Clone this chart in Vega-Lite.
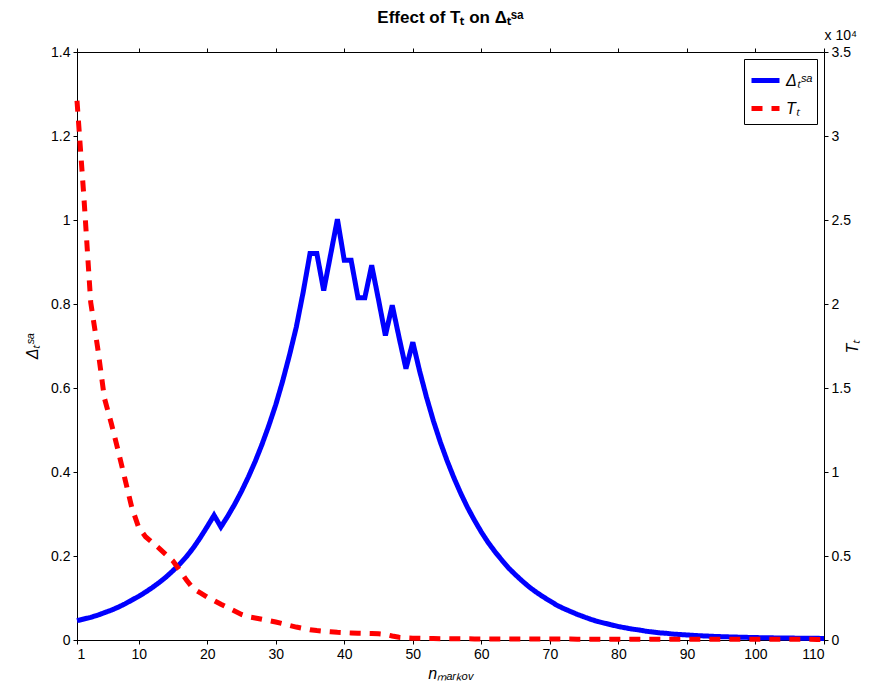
{
  "$schema": "https://vega.github.io/schema/vega-lite/v6.json",
  "autosize": {"type": "none"},
  "width": 747,
  "height": 588,
  "padding": {"left": 77, "top": 52, "right": 64, "bottom": 58},
  "background": "white",
  "config": {
    "view": {"stroke": "black", "strokeWidth": 1},
    "font": "Liberation Sans",
    "axis": {
      "labelFont": "Liberation Sans",
      "labelFontSize": 14,
      "labelColor": "black",
      "ticks": true,
      "tickColor": "#000000",
      "tickOpacity": 1,
      "tickWidth": 1,
      "tickSize": 4,
      "domain": true,
      "domainColor": "black",
      "grid": false,
      "labelPadding": 3,
      "titleFont": "Liberation Sans",
      "titleFontSize": 16,
      "titleFontWeight": "normal",
      "titleFontStyle": "italic",
      "titleColor": "black"
    },
    "legend": {
      "strokeColor": "black",
      "fillColor": "white",
      "padding": 5,
      "labelFont": "Liberation Sans",
      "labelFontSize": 16,
      "labelFontStyle": "italic",
      "labelColor": "black",
      "symbolType": "stroke",
      "symbolSize": 784,
      "symbolStrokeWidth": 5,
      "rowPadding": 1
    }
  },
  "title": {
    "text": "Effect of Tₜ on Δₜˢᵃ",
    "font": "Liberation Sans",
    "fontSize": 17,
    "fontWeight": "bold",
    "anchor": "middle",
    "color": "black",
    "offset": 2
  },
  "datasets": {
    "delta": [
      {"n": 1, "s": "Δₜˢᵃ", "v": 0.046}, {"n": 2, "s": "Δₜˢᵃ", "v": 0.05}, {"n": 3, "s": "Δₜˢᵃ", "v": 0.054},
      {"n": 4, "s": "Δₜˢᵃ", "v": 0.059}, {"n": 5, "s": "Δₜˢᵃ", "v": 0.065}, {"n": 6, "s": "Δₜˢᵃ", "v": 0.071},
      {"n": 7, "s": "Δₜˢᵃ", "v": 0.078}, {"n": 8, "s": "Δₜˢᵃ", "v": 0.086}, {"n": 9, "s": "Δₜˢᵃ", "v": 0.095},
      {"n": 10, "s": "Δₜˢᵃ", "v": 0.104}, {"n": 11, "s": "Δₜˢᵃ", "v": 0.114}, {"n": 12, "s": "Δₜˢᵃ", "v": 0.125},
      {"n": 13, "s": "Δₜˢᵃ", "v": 0.137}, {"n": 14, "s": "Δₜˢᵃ", "v": 0.15}, {"n": 15, "s": "Δₜˢᵃ", "v": 0.165},
      {"n": 16, "s": "Δₜˢᵃ", "v": 0.181}, {"n": 17, "s": "Δₜˢᵃ", "v": 0.199}, {"n": 18, "s": "Δₜˢᵃ", "v": 0.22},
      {"n": 19, "s": "Δₜˢᵃ", "v": 0.244}, {"n": 20, "s": "Δₜˢᵃ", "v": 0.27}, {"n": 21, "s": "Δₜˢᵃ", "v": 0.297},
      {"n": 22, "s": "Δₜˢᵃ", "v": 0.269}, {"n": 23, "s": "Δₜˢᵃ", "v": 0.295}, {"n": 24, "s": "Δₜˢᵃ", "v": 0.323},
      {"n": 25, "s": "Δₜˢᵃ", "v": 0.354}, {"n": 26, "s": "Δₜˢᵃ", "v": 0.388}, {"n": 27, "s": "Δₜˢᵃ", "v": 0.425},
      {"n": 28, "s": "Δₜˢᵃ", "v": 0.466}, {"n": 29, "s": "Δₜˢᵃ", "v": 0.511}, {"n": 30, "s": "Δₜˢᵃ", "v": 0.56},
      {"n": 31, "s": "Δₜˢᵃ", "v": 0.616}, {"n": 32, "s": "Δₜˢᵃ", "v": 0.678}, {"n": 33, "s": "Δₜˢᵃ", "v": 0.745},
      {"n": 34, "s": "Δₜˢᵃ", "v": 0.828}, {"n": 35, "s": "Δₜˢᵃ", "v": 0.92}, {"n": 36, "s": "Δₜˢᵃ", "v": 0.92},
      {"n": 37, "s": "Δₜˢᵃ", "v": 0.832}, {"n": 38, "s": "Δₜˢᵃ", "v": 0.917}, {"n": 39, "s": "Δₜˢᵃ", "v": 1.002},
      {"n": 40, "s": "Δₜˢᵃ", "v": 0.904}, {"n": 41, "s": "Δₜˢᵃ", "v": 0.904}, {"n": 42, "s": "Δₜˢᵃ", "v": 0.815},
      {"n": 43, "s": "Δₜˢᵃ", "v": 0.815}, {"n": 44, "s": "Δₜˢᵃ", "v": 0.892}, {"n": 45, "s": "Δₜˢᵃ", "v": 0.81},
      {"n": 46, "s": "Δₜˢᵃ", "v": 0.725}, {"n": 47, "s": "Δₜˢᵃ", "v": 0.797}, {"n": 48, "s": "Δₜˢᵃ", "v": 0.72},
      {"n": 49, "s": "Δₜˢᵃ", "v": 0.646}, {"n": 50, "s": "Δₜˢᵃ", "v": 0.709}, {"n": 51, "s": "Δₜˢᵃ", "v": 0.64},
      {"n": 52, "s": "Δₜˢᵃ", "v": 0.578}, {"n": 53, "s": "Δₜˢᵃ", "v": 0.522}, {"n": 54, "s": "Δₜˢᵃ", "v": 0.472},
      {"n": 55, "s": "Δₜˢᵃ", "v": 0.427}, {"n": 56, "s": "Δₜˢᵃ", "v": 0.386}, {"n": 57, "s": "Δₜˢᵃ", "v": 0.349},
      {"n": 58, "s": "Δₜˢᵃ", "v": 0.315}, {"n": 59, "s": "Δₜˢᵃ", "v": 0.285}, {"n": 60, "s": "Δₜˢᵃ", "v": 0.257},
      {"n": 61, "s": "Δₜˢᵃ", "v": 0.232}, {"n": 62, "s": "Δₜˢᵃ", "v": 0.21}, {"n": 63, "s": "Δₜˢᵃ", "v": 0.19},
      {"n": 64, "s": "Δₜˢᵃ", "v": 0.171}, {"n": 65, "s": "Δₜˢᵃ", "v": 0.155}, {"n": 66, "s": "Δₜˢᵃ", "v": 0.14},
      {"n": 67, "s": "Δₜˢᵃ", "v": 0.126}, {"n": 68, "s": "Δₜˢᵃ", "v": 0.114}, {"n": 69, "s": "Δₜˢᵃ", "v": 0.103},
      {"n": 70, "s": "Δₜˢᵃ", "v": 0.093}, {"n": 71, "s": "Δₜˢᵃ", "v": 0.083}, {"n": 72, "s": "Δₜˢᵃ", "v": 0.075},
      {"n": 73, "s": "Δₜˢᵃ", "v": 0.068}, {"n": 74, "s": "Δₜˢᵃ", "v": 0.061}, {"n": 75, "s": "Δₜˢᵃ", "v": 0.055},
      {"n": 76, "s": "Δₜˢᵃ", "v": 0.049}, {"n": 77, "s": "Δₜˢᵃ", "v": 0.044}, {"n": 78, "s": "Δₜˢᵃ", "v": 0.04},
      {"n": 79, "s": "Δₜˢᵃ", "v": 0.036}, {"n": 80, "s": "Δₜˢᵃ", "v": 0.032}, {"n": 81, "s": "Δₜˢᵃ", "v": 0.029},
      {"n": 82, "s": "Δₜˢᵃ", "v": 0.026}, {"n": 83, "s": "Δₜˢᵃ", "v": 0.024}, {"n": 84, "s": "Δₜˢᵃ", "v": 0.021},
      {"n": 85, "s": "Δₜˢᵃ", "v": 0.019}, {"n": 86, "s": "Δₜˢᵃ", "v": 0.017}, {"n": 87, "s": "Δₜˢᵃ", "v": 0.016},
      {"n": 88, "s": "Δₜˢᵃ", "v": 0.014}, {"n": 89, "s": "Δₜˢᵃ", "v": 0.013}, {"n": 90, "s": "Δₜˢᵃ", "v": 0.012},
      {"n": 91, "s": "Δₜˢᵃ", "v": 0.011}, {"n": 92, "s": "Δₜˢᵃ", "v": 0.01}, {"n": 93, "s": "Δₜˢᵃ", "v": 0.0093},
      {"n": 94, "s": "Δₜˢᵃ", "v": 0.0086}, {"n": 95, "s": "Δₜˢᵃ", "v": 0.008}, {"n": 96, "s": "Δₜˢᵃ", "v": 0.0075},
      {"n": 97, "s": "Δₜˢᵃ", "v": 0.007}, {"n": 98, "s": "Δₜˢᵃ", "v": 0.0066}, {"n": 99, "s": "Δₜˢᵃ", "v": 0.0062},
      {"n": 100, "s": "Δₜˢᵃ", "v": 0.0058}, {"n": 101, "s": "Δₜˢᵃ", "v": 0.0055}, {"n": 102, "s": "Δₜˢᵃ", "v": 0.0052},
      {"n": 103, "s": "Δₜˢᵃ", "v": 0.005}, {"n": 104, "s": "Δₜˢᵃ", "v": 0.0048}, {"n": 105, "s": "Δₜˢᵃ", "v": 0.0046},
      {"n": 106, "s": "Δₜˢᵃ", "v": 0.0044}, {"n": 107, "s": "Δₜˢᵃ", "v": 0.0042}, {"n": 108, "s": "Δₜˢᵃ", "v": 0.004},
      {"n": 109, "s": "Δₜˢᵃ", "v": 0.0039}, {"n": 110, "s": "Δₜˢᵃ", "v": 0.0038}
    ],
    "temp": [
      {"n": 1, "s": "Tₜ", "v": 32100}, {"n": 2, "s": "Tₜ", "v": 26400}, {"n": 3, "s": "Tₜ", "v": 20100},
      {"n": 4, "s": "Tₜ", "v": 17440}, {"n": 5, "s": "Tₜ", "v": 14400}, {"n": 6, "s": "Tₜ", "v": 12900},
      {"n": 7, "s": "Tₜ", "v": 11280}, {"n": 8, "s": "Tₜ", "v": 9580}, {"n": 9, "s": "Tₜ", "v": 7880},
      {"n": 10, "s": "Tₜ", "v": 6700}, {"n": 11, "s": "Tₜ", "v": 6150}, {"n": 12, "s": "Tₜ", "v": 5800},
      {"n": 13, "s": "Tₜ", "v": 5450}, {"n": 14, "s": "Tₜ", "v": 5080}, {"n": 15, "s": "Tₜ", "v": 4700},
      {"n": 16, "s": "Tₜ", "v": 4150}, {"n": 17, "s": "Tₜ", "v": 3550}, {"n": 18, "s": "Tₜ", "v": 3050},
      {"n": 19, "s": "Tₜ", "v": 2800}, {"n": 20, "s": "Tₜ", "v": 2550}, {"n": 21, "s": "Tₜ", "v": 2350},
      {"n": 22, "s": "Tₜ", "v": 2130}, {"n": 23, "s": "Tₜ", "v": 1930}, {"n": 24, "s": "Tₜ", "v": 1730},
      {"n": 25, "s": "Tₜ", "v": 1520}, {"n": 26, "s": "Tₜ", "v": 1380}, {"n": 27, "s": "Tₜ", "v": 1310},
      {"n": 28, "s": "Tₜ", "v": 1230}, {"n": 29, "s": "Tₜ", "v": 1150}, {"n": 30, "s": "Tₜ", "v": 1070},
      {"n": 31, "s": "Tₜ", "v": 970}, {"n": 32, "s": "Tₜ", "v": 870}, {"n": 33, "s": "Tₜ", "v": 770},
      {"n": 34, "s": "Tₜ", "v": 690}, {"n": 35, "s": "Tₜ", "v": 610}, {"n": 36, "s": "Tₜ", "v": 560},
      {"n": 37, "s": "Tₜ", "v": 520}, {"n": 38, "s": "Tₜ", "v": 490}, {"n": 39, "s": "Tₜ", "v": 460},
      {"n": 40, "s": "Tₜ", "v": 440}, {"n": 41, "s": "Tₜ", "v": 420}, {"n": 42, "s": "Tₜ", "v": 405},
      {"n": 43, "s": "Tₜ", "v": 395}, {"n": 44, "s": "Tₜ", "v": 385}, {"n": 45, "s": "Tₜ", "v": 370},
      {"n": 46, "s": "Tₜ", "v": 330}, {"n": 47, "s": "Tₜ", "v": 240}, {"n": 48, "s": "Tₜ", "v": 160},
      {"n": 49, "s": "Tₜ", "v": 130}, {"n": 50, "s": "Tₜ", "v": 110}, {"n": 51, "s": "Tₜ", "v": 100},
      {"n": 52, "s": "Tₜ", "v": 92}, {"n": 53, "s": "Tₜ", "v": 86}, {"n": 54, "s": "Tₜ", "v": 80},
      {"n": 55, "s": "Tₜ", "v": 76}, {"n": 56, "s": "Tₜ", "v": 72}, {"n": 57, "s": "Tₜ", "v": 70},
      {"n": 58, "s": "Tₜ", "v": 68}, {"n": 59, "s": "Tₜ", "v": 66}, {"n": 60, "s": "Tₜ", "v": 64},
      {"n": 61, "s": "Tₜ", "v": 63}, {"n": 62, "s": "Tₜ", "v": 62}, {"n": 63, "s": "Tₜ", "v": 61},
      {"n": 64, "s": "Tₜ", "v": 60}, {"n": 65, "s": "Tₜ", "v": 59}, {"n": 66, "s": "Tₜ", "v": 58},
      {"n": 67, "s": "Tₜ", "v": 57}, {"n": 68, "s": "Tₜ", "v": 56}, {"n": 69, "s": "Tₜ", "v": 55},
      {"n": 70, "s": "Tₜ", "v": 54}, {"n": 71, "s": "Tₜ", "v": 54}, {"n": 72, "s": "Tₜ", "v": 53},
      {"n": 73, "s": "Tₜ", "v": 53}, {"n": 74, "s": "Tₜ", "v": 52}, {"n": 75, "s": "Tₜ", "v": 52},
      {"n": 76, "s": "Tₜ", "v": 51}, {"n": 77, "s": "Tₜ", "v": 51}, {"n": 78, "s": "Tₜ", "v": 50},
      {"n": 79, "s": "Tₜ", "v": 50}, {"n": 80, "s": "Tₜ", "v": 49}, {"n": 81, "s": "Tₜ", "v": 49},
      {"n": 82, "s": "Tₜ", "v": 48}, {"n": 83, "s": "Tₜ", "v": 48}, {"n": 84, "s": "Tₜ", "v": 47},
      {"n": 85, "s": "Tₜ", "v": 47}, {"n": 86, "s": "Tₜ", "v": 46}, {"n": 87, "s": "Tₜ", "v": 46},
      {"n": 88, "s": "Tₜ", "v": 45}, {"n": 89, "s": "Tₜ", "v": 45}, {"n": 90, "s": "Tₜ", "v": 44},
      {"n": 91, "s": "Tₜ", "v": 44}, {"n": 92, "s": "Tₜ", "v": 43}, {"n": 93, "s": "Tₜ", "v": 43},
      {"n": 94, "s": "Tₜ", "v": 42}, {"n": 95, "s": "Tₜ", "v": 42}, {"n": 96, "s": "Tₜ", "v": 42},
      {"n": 97, "s": "Tₜ", "v": 41}, {"n": 98, "s": "Tₜ", "v": 41}, {"n": 99, "s": "Tₜ", "v": 41},
      {"n": 100, "s": "Tₜ", "v": 40}, {"n": 101, "s": "Tₜ", "v": 40}, {"n": 102, "s": "Tₜ", "v": 40},
      {"n": 103, "s": "Tₜ", "v": 39}, {"n": 104, "s": "Tₜ", "v": 39}, {"n": 105, "s": "Tₜ", "v": 39},
      {"n": 106, "s": "Tₜ", "v": 38}, {"n": 107, "s": "Tₜ", "v": 38}, {"n": 108, "s": "Tₜ", "v": 38},
      {"n": 109, "s": "Tₜ", "v": 37}, {"n": 110, "s": "Tₜ", "v": 37}
    ]
  },
  "layer": [
    {
      "data": {"name": "delta"},
      "mark": {"type": "line", "strokeWidth": 5, "strokeCap": "butt", "strokeJoin": "miter"},
      "encoding": {
        "x": {
          "field": "n", "type": "quantitative",
          "scale": {"domain": [1, 110], "nice": false, "zero": false},
          "axis": {"orient": "bottom", "values": [1, 10, 20, 30, 40, 50, 60, 70, 80, 90, 100, 110], "title": "nₘₐᵣₖₒᵥ", "titlePadding": 4}
        },
        "y": {
          "field": "v", "type": "quantitative",
          "scale": {"domain": [0, 1.4], "nice": false},
          "axis": {"orient": "left", "values": [0, 0.2, 0.4, 0.6, 0.8, 1, 1.2, 1.4], "format": "~g", "title": "Δₜˢᵃ", "titlePadding": 10}
        },
        "color": {
          "field": "s", "type": "nominal",
          "scale": {"domain": ["Δₜˢᵃ", "Tₜ"], "range": ["#0000ff", "#ff0000"]},
          "legend": {"title": null, "orient": "top-right", "offset": 7}
        },
        "strokeDash": {
          "field": "s", "type": "nominal",
          "scale": {"domain": ["Δₜˢᵃ", "Tₜ"], "range": [[1, 0], [11, 9]]},
          "legend": {"title": null, "orient": "top-right", "offset": 7}
        }
      }
    },
    {
      "data": {"name": "temp"},
      "mark": {"type": "line", "strokeWidth": 5, "strokeCap": "butt", "strokeJoin": "miter"},
      "encoding": {
        "x": {
          "field": "n", "type": "quantitative",
          "scale": {"domain": [1, 110], "nice": false, "zero": false},
          "axis": {"orient": "top", "values": [1, 10, 20, 30, 40, 50, 60, 70, 80, 90, 100, 110], "labels": false, "title": "x 10⁴", "titleAnchor": "end", "titleAlign": "left", "titleFontStyle": "normal", "titleFontSize": 14, "titlePadding": 5}
        },
        "y": {
          "field": "v", "type": "quantitative",
          "scale": {"domain": [0, 35000], "nice": false},
          "axis": {"orient": "right", "values": [0, 5000, 10000, 15000, 20000, 25000, 30000, 35000], "labelExpr": "datum.value / 10000", "title": "Tₜ", "titleAngle": 270, "titlePadding": 10}
        },
        "color": {"field": "s", "type": "nominal"},
        "strokeDash": {"field": "s", "type": "nominal"}
      }
    }
  ],
  "resolve": {"scale": {"y": "independent"}, "axis": {"x": "independent", "y": "independent"}}
}
